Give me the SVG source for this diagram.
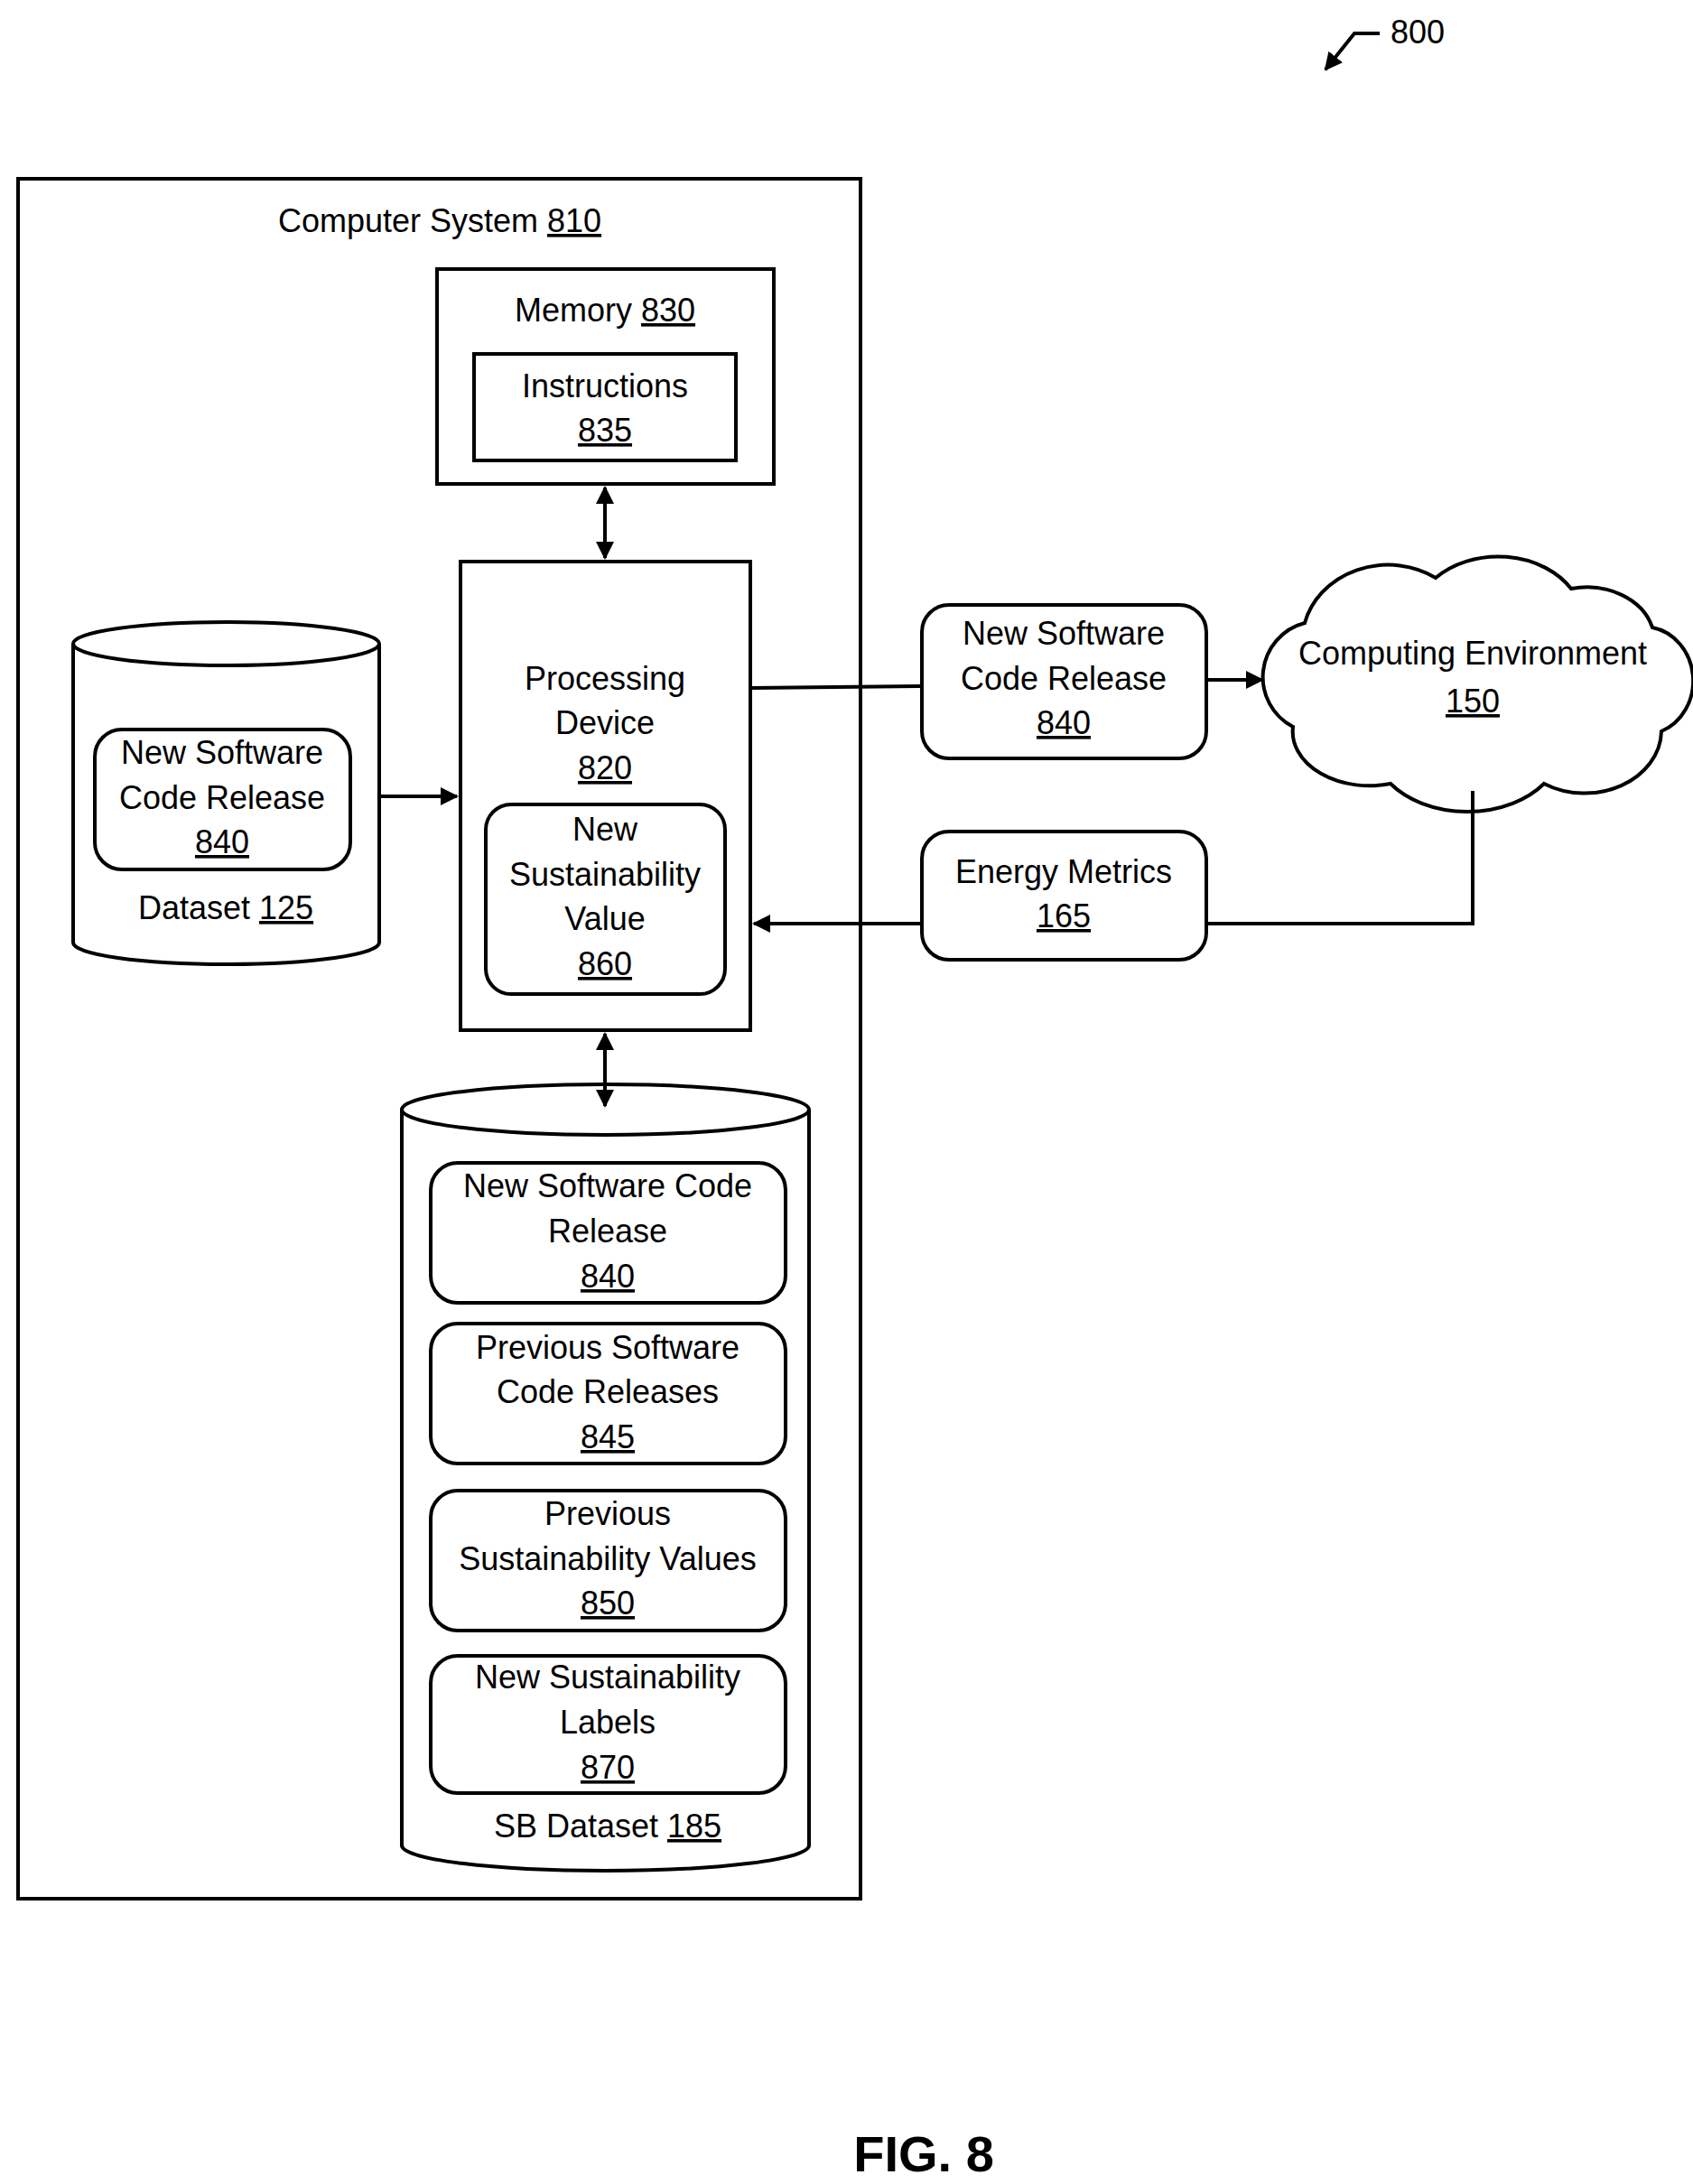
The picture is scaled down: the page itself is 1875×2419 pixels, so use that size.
<svg xmlns="http://www.w3.org/2000/svg" width="1875" height="2419" viewBox="0 0 1875 2419">
<style>
.b{fill:#fff;stroke:#000;stroke-width:4}
.c{fill:none;stroke:#000;stroke-width:4}
text{font-family:"Liberation Sans",Arial,sans-serif;font-size:36px;text-anchor:middle;fill:#000}
.u{text-decoration:underline}
</style>
<defs>
<marker id="a" viewBox="0 0 10 10" refX="9" refY="5" markerWidth="5" markerHeight="5" orient="auto-start-reverse"><path d="M0,0 L10,5 L0,10 z"/></marker>
</defs>
<rect width="1875" height="2419" fill="#fff"/>
<g id="n800"><text x="1540" y="48" style="text-anchor:start">800</text></g>
<g id="cs"><rect class="b" x="20" y="198" width="933" height="1905"/><text x="487" y="257">Computer System <tspan class="u">810</tspan></text></g>
<g id="mem"><rect class="b" x="484" y="298" width="373" height="238"/><text x="670" y="356">Memory <tspan class="u">830</tspan></text>
<rect class="b" x="525" y="392" width="290" height="118"/><text x="670" y="440">Instructions</text><text x="670" y="489" class="u">835</text></g>
<g id="pd"><rect class="b" x="510" y="622" width="321" height="519"/><text x="670" y="764">Processing</text><text x="670" y="813">Device</text><text x="670" y="863" class="u">820</text>
<rect class="b" x="538" y="891" width="265" height="210" rx="28"/><text x="670" y="931">New</text><text x="670" y="981">Sustainability</text><text x="670" y="1030">Value</text><text x="670" y="1080" class="u">860</text></g>
<g id="ds"><path class="b" d="M81,713 L81,1044 A169.5,24 0 0 0 420,1044 L420,713 A169.5,24 0 0 0 81,713 A169.5,24 0 0 0 420,713"/>
<rect class="b" x="105" y="808" width="283" height="155" rx="30"/><text x="246" y="846">New Software</text><text x="246" y="896">Code Release</text><text x="246" y="945" class="u">840</text>
<text x="250" y="1018">Dataset <tspan class="u">125</tspan></text></g>
<g id="sb"><path class="b" d="M445,1229 L445,2044 A225.5,28 0 0 0 896,2044 L896,1229 A225.5,28 0 0 0 445,1229 A225.5,28 0 0 0 896,1229"/>
<rect class="b" x="477" y="1288" width="393" height="155" rx="30"/><text x="673" y="1326">New Software Code</text><text x="673" y="1376">Release</text><text x="673" y="1426" class="u">840</text>
<rect class="b" x="477" y="1466" width="393" height="155" rx="30"/><text x="673" y="1505">Previous Software</text><text x="673" y="1554">Code Releases</text><text x="673" y="1604" class="u">845</text>
<rect class="b" x="477" y="1651" width="393" height="155" rx="30"/><text x="673" y="1689">Previous</text><text x="673" y="1739">Sustainability Values</text><text x="673" y="1788" class="u">850</text>
<rect class="b" x="477" y="1834" width="393" height="152" rx="30"/><text x="673" y="1870">New Sustainability</text><text x="673" y="1920">Labels</text><text x="673" y="1970" class="u">870</text>
<text x="673" y="2035">SB Dataset <tspan class="u">185</tspan></text></g>
<g id="rel"><rect class="b" x="1021" y="670" width="315" height="170" rx="30"/><text x="1178" y="714">New Software</text><text x="1178" y="764">Code Release</text><text x="1178" y="813" class="u">840</text></g>
<g id="em"><rect class="b" x="1021" y="921" width="315" height="142" rx="30"/><text x="1178" y="978">Energy Metrics</text><text x="1178" y="1027" class="u">165</text></g>
<g id="ce"><path class="b" d="M1432,805 A62,62 0 0 1 1445,690 A95,85 0 0 1 1590,640 A95,75 0 0 1 1740,652 A75,60 0 0 1 1830,695 A55,60 0 0 1 1840,810 A85,70 0 0 1 1710,868 A105,75 0 0 1 1540,868 A85,60 0 0 1 1432,805 Z"/>
<text x="1631" y="736">Computing Environment</text><text x="1631" y="789" class="u">150</text></g>
<g id="connectors">
<path class="c" d="M1528,37 L1500,37 L1468,77" marker-end="url(#a)"/>
<path class="c" d="M670,540 L670,618" marker-start="url(#a)" marker-end="url(#a)"/>
<path class="c" d="M670,1145 L670,1225" marker-start="url(#a)" marker-end="url(#a)"/>
<path class="c" d="M420,882 L506,882" marker-end="url(#a)"/>
<path class="c" d="M831,762 L1021,760"/>
<path class="c" d="M1336,753 L1398,753" marker-end="url(#a)"/>
<path class="c" d="M1631,876 L1631,1023 L1336,1023"/>
<path class="c" d="M1021,1023 L835,1023" marker-end="url(#a)"/>
</g>
<text x="1023" y="2405" style="font-weight:bold;font-size:56px">FIG. 8</text>
</svg>
